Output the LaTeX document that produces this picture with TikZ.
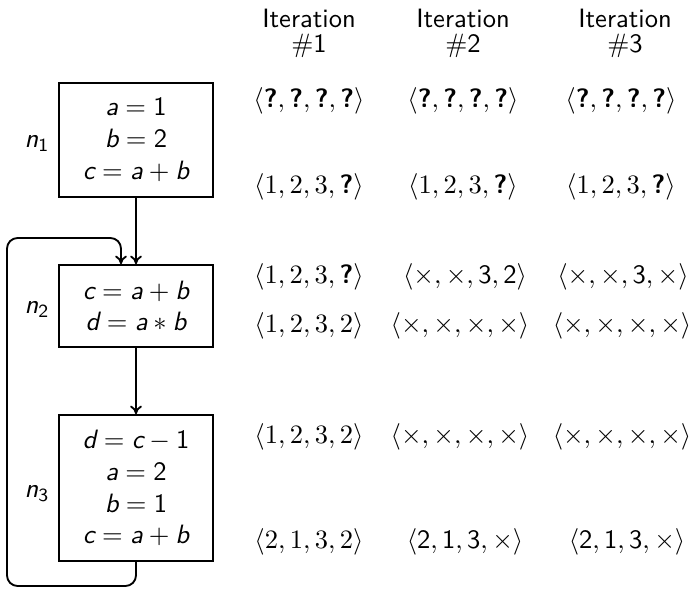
\documentclass[tikz,border=0pt]{standalone}
\usetikzlibrary{arrows.meta}
\newcommand{\sv}[1]{\textsf{\itshape #1}}
\newcommand{\sn}[1]{\mathsf{#1}}
\newcommand{\qm}{\textsf{\bfseries ?}}
\begin{document}
\begin{tikzpicture}[x=0.377pt,y=-0.377pt,
  box/.style={draw, line width=0.7pt, minimum width=58.1pt, inner sep=0pt, align=center,
    font=\fontsize{10}{12}\selectfont},
  flow/.style={-{To[length=3.2pt,width=4.4pt]}, line width=0.7pt},
  hdr/.style={align=center, font=\sffamily\fontsize{10}{9.4}\selectfont, inner sep=0pt},
  tup/.style={anchor=base, inner sep=0pt},
  lab/.style={inner sep=0pt}]
\useasboundingbox (0,0) rectangle (698,588);
% boxes
\node[box, minimum height=43pt] (n1) at (136,140)
  {$\sv{a} = \sn{1}$\\ $\sv{b} = \sn{2}$\\ $\sv{c} = \sv{a} + \sv{b}$};
\node[box, minimum height=30.9pt] (n2) at (136,306)
  {$\sv{c} = \sv{a} + \sv{b}$\\ $\sv{d} = \sv{a} \ast \sv{b}$};
\node[box, minimum height=55pt] (n3) at (136,488)
  {$\sv{d} = \sv{c} - \sn{1}$\\ $\sv{a} = \sn{2}$\\ $\sv{b} = \sn{1}$\\ $\sv{c} = \sv{a} + \sv{b}$};
% labels
\node[lab] (l1) at (37,143) {$\sv{n}_{\sn{1}}$};
\node[lab] (l2) at (37,309) {$\sv{n}_{\sn{2}}$};
\node[lab] (l3) at (37,493) {$\sv{n}_{\sn{3}}$};
% edges
\draw[flow] (n1) -- (n2);
\draw[flow] (n2) -- (n3);
\coordinate (lb) at (7,586);
\coordinate (lt) at (121,238);
\draw[flow, rounded corners=4pt] (n3.south) |- (lb) |- (lt) -- (lt |- n2.north);
% headers
\node[hdr] (h1) at (309,33) {Iteration\\ $\#$1};
\node[hdr] (h2) at (463,33) {Iteration\\ $\#$2};
\node[hdr] (h3) at (625,33) {Iteration\\ $\#$3};
% row 1
\node[tup] (r1a) at (309,107) {$\langle \qm, \qm, \qm, \qm \rangle$};
\node[tup] (r1b) at (463,107) {$\langle \qm, \qm, \qm, \qm \rangle$};
\node[tup] (r1c) at (621,107) {$\langle \qm, \qm, \qm, \qm \rangle$};
% row 2
\node[tup] (r2a) at (309,193) {$\langle 1, 2, 3, \qm \rangle$};
\node[tup] (r2b) at (463,193) {$\langle 1, 2, 3, \qm \rangle$};
\node[tup] (r2c) at (621,193) {$\langle 1, 2, 3, \qm \rangle$};
% row 3
\node[tup] (r3a) at (309,283) {$\langle 1, 2, 3, \qm \rangle$};
\node[tup] (r3b) at (465,283) {$\langle \times, \times, \sn{3}, \sn{2} \rangle$};
\node[tup] (r3c) at (623,283) {$\langle \times, \times, \sn{3}, \times \rangle$};
% row 4
\node[tup] (r4a) at (309,332) {$\langle 1, 2, 3, 2 \rangle$};
\node[tup] (r4b) at (460,332) {$\langle \times, \times, \times, \times \rangle$};
\node[tup] (r4c) at (622,332) {$\langle \times, \times, \times, \times \rangle$};
% row 5
\node[tup] (r5a) at (309,443) {$\langle 1, 2, 3, 2 \rangle$};
\node[tup] (r5b) at (460,443) {$\langle \times, \times, \times, \times \rangle$};
\node[tup] (r5c) at (622,443) {$\langle \times, \times, \times, \times \rangle$};
% row 6
\node[tup] (r6a) at (309,548) {$\langle 2, 1, 3, 2 \rangle$};
\node[tup] (r6b) at (465,548) {$\langle \sn{2}, \sn{1}, \sn{3}, \times \rangle$};
\node[tup] (r6c) at (627,548) {$\langle \sn{2}, \sn{1}, \sn{3}, \times \rangle$};
\end{tikzpicture}
\end{document}
